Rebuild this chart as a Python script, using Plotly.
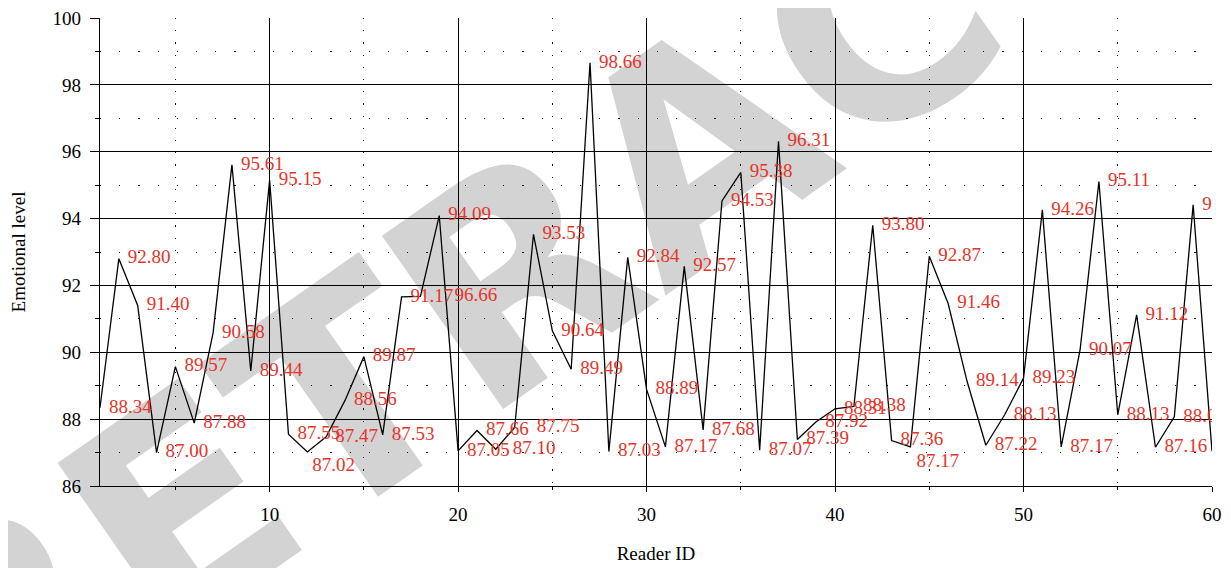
import plotly.graph_objects as go

# ---------------- data ----------------
reader_id = list(range(1, 61))

emotional_level = [
    88.34, 92.80, 91.40, 87.00, 89.57, 87.88, 90.58, 95.61, 89.44, 95.15,
    87.55, 87.02, 87.47, 88.56, 89.87, 87.53, 91.66, 91.67, 94.09, 87.05,
    87.66, 87.10, 87.75, 93.53, 90.64, 89.49, 98.66, 87.03, 92.84, 88.89,
    87.17, 92.57, 87.68, 94.53, 95.38, 87.07, 96.31, 87.39, 87.92, 88.31,
    88.38, 93.80, 87.36, 87.17, 92.87, 91.46, 89.14, 87.22, 88.13, 89.23,
    94.26, 87.17, 90.07, 95.11, 88.13, 91.12, 87.16, 88.07, 94.41, 87.04,
]

point_labels = [
    "88.34", "92.80", "91.40", "87.00", "89.57", "87.88", "90.58", "95.61", "89.44", "95.15",
    "87.55", "87.02", "87.47", "88.56", "89.87", "87.53", "91.17", "96.66", "94.09", "87.05",
    "87.66", "87.10", "87.75", "93.53", "90.64", "89.49", "98.66", "87.03", "92.84", "88.89",
    "87.17", "92.57", "87.68", "94.53", "95.38", "87.07", "96.31", "87.39", "87.92", "88.31",
    "88.38", "93.80", "87.36", "87.17", "92.87", "91.46", "89.14", "87.22", "88.13", "89.23",
    "94.26", "87.17", "90.07", "95.11", "88.13", "91.12", "87.16", "88.07", "94.41", "87.04",
]

x_ticks = [10, 20, 30, 40, 50, 60]
y_ticks = [86, 88, 90, 92, 94, 96, 98, 100]

# ---------------- label placement styling ----------------
n = len(reader_id)
label_pos = ["middle right"] * n
label_gap = [12.8] * n          # invisible marker size -> text offset
label_pos[11] = "bottom right"; label_gap[11] = 6.4
label_pos[43] = "bottom right"; label_gap[43] = 8
label_gap[17] = 52.8
label_gap[21] = 25.6
label_gap[22] = 33.6

RED = "#e5352a"
FONT = "Liberation Serif"

fig = go.Figure()

fig.add_trace(go.Scatter(
    x=reader_id, y=emotional_level, mode="lines",
    line=dict(color="black", width=1.3),
    hoverinfo="skip", showlegend=False,
))

fig.add_trace(go.Scatter(
    x=reader_id, y=emotional_level, mode="markers+text",
    text=point_labels, textposition=label_pos,
    textfont=dict(family=FONT, size=19, color=RED),
    marker=dict(size=label_gap, color="rgba(0,0,0,0)", line=dict(width=0)),
    cliponaxis=True, hoverinfo="skip", showlegend=False,
))

# watermark
fig.add_shape(
    type="rect", xref="paper", yref="paper",
    x0=0.52, x1=0.54, y0=0.75, y1=0.77,
    line=dict(width=0), fillcolor="rgba(0,0,0,0)", layer="below",
    label=dict(text="RETRACTED",
               font=dict(family="DejaVu Sans", size=290, color="#d3d3d3", weight="bold"),
               textangle=-35, textposition="middle center"),
)

# the page adds an 8px body margin, so the figure is 8px smaller than the window
fig.update_layout(
    width=1223, height=560,
    margin=dict(l=92, r=19, t=10, b=82, autoexpand=False),
    paper_bgcolor="white", plot_bgcolor="rgba(0,0,0,0)",
    showlegend=False,
    font=dict(family=FONT, size=19, color="black"),
)

fig.update_xaxes(
    range=[1, 60], tickmode="array", tickvals=x_ticks, automargin=False,
    ticklabeloverflow="allow",
    ticks="outside", ticklen=5, tickwidth=1, tickcolor="black",
    showline=True, linecolor="black", linewidth=1.2,
    showgrid=True, gridcolor="black", gridwidth=1, zeroline=False,
    ticklabelstandoff=6,
    tickfont=dict(family=FONT, size=19, color="black"),
    title=dict(text="Reader ID", standoff=22, font=dict(family=FONT, size=19, color="black")),
    minor=dict(dtick=5, tick0=0, ticks="outside", ticklen=3, tickcolor="black",
               showgrid=True, gridcolor="black", gridwidth=1.2, griddash="1.2px,11px"),
)

fig.update_yaxes(
    range=[86, 100], tickmode="array", tickvals=y_ticks, automargin=False,
    ticklabeloverflow="allow",
    ticks="outside", ticklen=9, tickwidth=1, tickcolor="black",
    showline=True, linecolor="black", linewidth=1.2,
    showgrid=True, gridcolor="black", gridwidth=1, zeroline=False,
    ticklabelstandoff=5,
    tickfont=dict(family=FONT, size=19, color="black"),
    title=dict(text="Emotional level", standoff=22, font=dict(family=FONT, size=19, color="black")),
    minor=dict(dtick=1, tick0=0, ticks="outside", ticklen=4, tickcolor="black",
               showgrid=True, gridcolor="black", gridwidth=1.2, griddash="1.2px,18px"),
)

fig.write_html("out.html")
